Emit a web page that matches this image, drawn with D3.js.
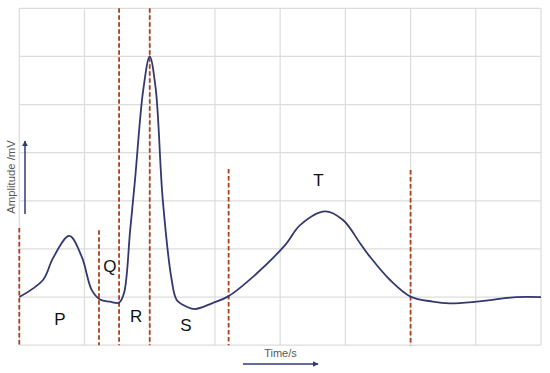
<!DOCTYPE html>
<html>
<head>
<meta charset="utf-8">
<script src="https://cdn.jsdelivr.net/npm/d3@7"></script>
<style>
  html, body { margin: 0; padding: 0; background: #ffffff; }
  svg { display: block; }
</style>
</head>
<body>
<svg id="chart" width="550" height="373"></svg>
<script>
// ---- data (time in grid units, amplitude relative to baseline) ----
const timeValues = [0, 0.363, 0.517, 0.767, 0.957, 1.11, 1.238, 1.39, 1.53, 1.606, 1.70, 1.774, 1.90, 2.0, 2.09, 2.20, 2.337, 2.414, 2.567, 2.694, 2.955, 3.21, 3.64, 4.075, 4.31, 4.688, 4.964, 5.225, 5.376, 5.685, 6.0, 6.34, 6.60, 7.01, 7.63, 8.0];
const amplitudeValues = [0, 0.355, 0.81, 1.27, 0.84, 0.15, -0.05, -0.095, -0.116, 0.085, 1.39, 2.43, 4.30, 5.0, 4.35, 2.02, 0.355, -0.06, -0.2, -0.25, -0.13, 0.02, 0.49, 1.08, 1.50, 1.78, 1.60, 1.12, 0.84, 0.355, 0.01, -0.095, -0.13, -0.095, 0.0, 0.0];
const gridX = [0, 1, 2, 3, 4, 5, 6, 7, 8];
const gridY = [-1, 0, 1, 2, 3, 4, 5, 6];
const markerTimes = [0, 1.222, 1.53, 2.0, 3.21, 6.0];
const markerTops = [1.435, 1.39, 6.0, 6.0, 2.66, 2.64];
const waveLabels = ["P", "Q", "R", "S", "T"];
const waveLabelTimes = [0.624, 1.39, 1.79, 2.556, 4.588];
const waveLabelAmps = [-0.58, 0.53, -0.51, -0.715, 2.31];
const xAxisTitle = "Time/s";
const yAxisTitle = "Amplitude /mV";

const svg = d3.select("#chart");
const x = d3.scaleLinear().domain([0, 8]).range([19.3, 541]);
const y = d3.scaleLinear().domain([-1, 6]).range([345.2, 8.3]);

// grid
const grid = svg.append("g");
grid.selectAll("line.v").data(gridX).join("line")
  .attr("x1", d => x(d)).attr("x2", d => x(d))
  .attr("y1", y(6)).attr("y2", y(-1))
  .attr("stroke", "#dcdcdc").attr("stroke-width", 1.2);
grid.selectAll("line.h").data(gridY).join("line")
  .attr("y1", d => y(d)).attr("y2", d => y(d))
  .attr("x1", x(0)).attr("x2", x(8))
  .attr("stroke", "#dcdcdc").attr("stroke-width", 1.2);

// dashed markers
svg.append("g").selectAll("line").data(markerTimes).join("line")
  .attr("x1", d => x(d)).attr("x2", d => x(d))
  .attr("y1", (d, i) => y(markerTops[i])).attr("y2", y(-1))
  .attr("stroke", "#a9401c").attr("stroke-width", 1.8)
  .attr("stroke-dasharray", "4.5,2.5");

// wave
const pts = timeValues.map((t, i) => [t, amplitudeValues[i]]);
svg.append("path")
  .datum(pts)
  .attr("d", d3.line().x(d => x(d[0])).y(d => y(d[1])).curve(d3.curveCatmullRom.alpha(0.5)))
  .attr("fill", "none").attr("stroke", "#33386e").attr("stroke-width", 1.8);

// labels
svg.append("g").selectAll("text").data(waveLabels).join("text")
  .attr("x", (d, i) => x(waveLabelTimes[i]))
  .attr("y", (d, i) => y(waveLabelAmps[i]))
  .attr("text-anchor", "middle")
  .attr("font-family", "Liberation Sans, Arial, sans-serif")
  .attr("font-size", 17).attr("fill", "#111")
  .text(d => d);

// arrows
const defs = svg.append("defs");
defs.append("marker").attr("id", "arr").attr("viewBox", "0 0 10 10")
  .attr("refX", 9).attr("refY", 5).attr("markerWidth", 6).attr("markerHeight", 6)
  .attr("markerUnits", "userSpaceOnUse").attr("orient", "auto")
  .append("path").attr("d", "M0,0 L10,5 L0,10 z").attr("fill", "#2e3a78");

svg.append("line").attr("x1", 25).attr("x2", 25).attr("y1", 214).attr("y2", 141)
  .attr("stroke", "#2e3a78").attr("stroke-width", 1.5).attr("marker-end", "url(#arr)");
svg.append("line").attr("x1", 243).attr("x2", 318).attr("y1", 364).attr("y2", 364)
  .attr("stroke", "#2e3a78").attr("stroke-width", 1.5).attr("marker-end", "url(#arr)");

svg.append("text").attr("transform", "translate(15,177) rotate(-90)")
  .attr("text-anchor", "middle")
  .attr("font-family", "Liberation Sans, Arial, sans-serif")
  .attr("font-size", 11.3).attr("fill", "#595959").text(yAxisTitle);
svg.append("text").attr("x", 280.5).attr("y", 357)
  .attr("text-anchor", "middle")
  .attr("font-family", "Liberation Sans, Arial, sans-serif")
  .attr("font-size", 11).attr("fill", "#595959").text(xAxisTitle);
</script>
</body>
</html>
